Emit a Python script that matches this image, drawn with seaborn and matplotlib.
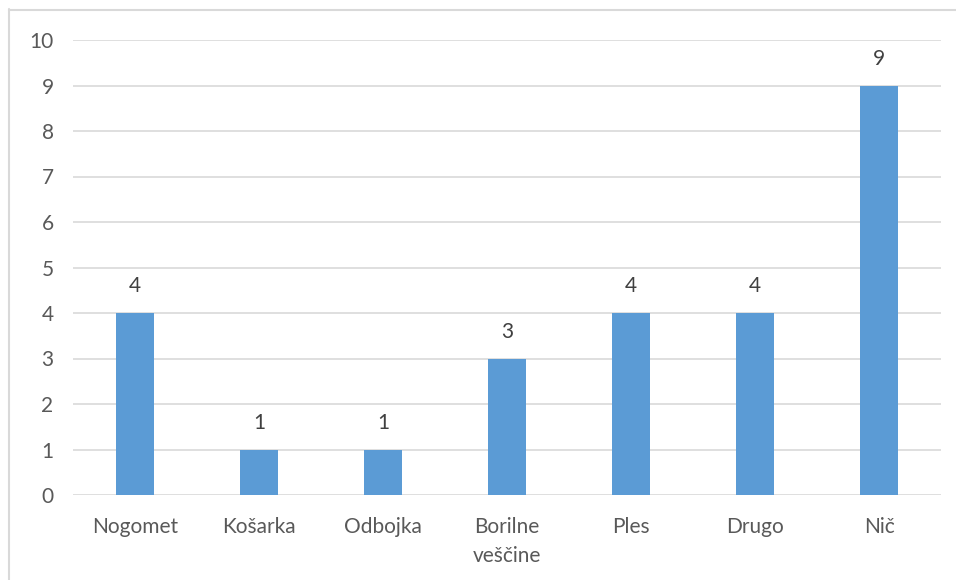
import matplotlib
matplotlib.use("Agg")
from matplotlib import pyplot as plt
from matplotlib.lines import Line2D
import seaborn as sns
import pandas as pd

categories = ["Nogomet", "Košarka", "Odbojka", "Borilne\nveščine", "Ples", "Drugo", "Nič"]
values = [4, 1, 1, 3, 4, 4, 9]
yticks = list(range(0, 11))

sns.set_theme(style="white")
plt.rcParams['font.family'] = ['Lato', 'DejaVu Sans']

df = pd.DataFrame({"cat": categories, "val": values})

fig = plt.figure(figsize=(9.56, 5.8), dpi=100)
ax = fig.add_axes([73/956, 1 - 495/580, (941 - 73)/956, (495 - 40)/580])

sns.barplot(data=df, x="cat", y="val", color="#5B9BD5", saturation=1,
            width=0.31, linewidth=0, ax=ax, zorder=3)

ax.set_ylim(0, 10)
ax.set_xlim(-0.5, len(categories) - 0.5)
ax.set_yticks(yticks)
ax.yaxis.grid(True, color="#D9D9D9", linewidth=1.2, zorder=0)
ax.set_axisbelow(True)
for s in ax.spines.values():
    s.set_visible(False)
ax.tick_params(axis="both", length=0, labelsize=15, labelcolor="#595959")
ax.tick_params(axis="y", pad=14)
ax.tick_params(axis="x", pad=16)
for lbl in ax.get_xticklabels():
    lbl.set_linespacing(1.55)
ax.set_xlabel("")
ax.set_ylabel("")

for c in ax.containers:
    ax.bar_label(c, fmt="%d", padding=12, fontsize=15, color="#404040")

# chart border (left and top only visible in the crop)
fig.add_artist(Line2D([8.5/956, 8.5/956], [0, 1 - 9/580], transform=fig.transFigure,
                      color="#D9D9D9", linewidth=1.5))
fig.add_artist(Line2D([8.5/956, 1], [1 - 9.5/580, 1 - 9.5/580], transform=fig.transFigure,
                      color="#D9D9D9", linewidth=1.5))

fig.savefig("out.png", dpi=100)
